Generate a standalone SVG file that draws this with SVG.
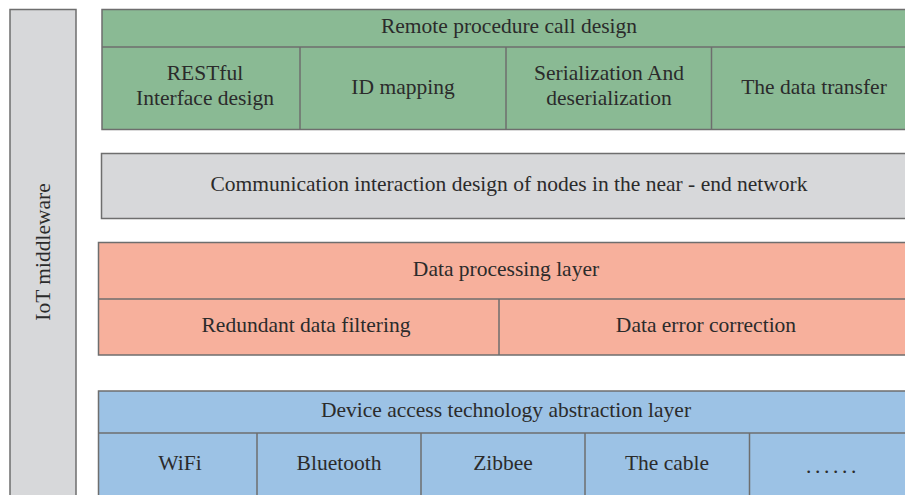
<svg xmlns="http://www.w3.org/2000/svg" width="905" height="495" viewBox="0 0 905 495">
  <style>
    .box { stroke: #6e6e6e; stroke-width: 1.5; }
    .line { stroke: #6e6e6e; stroke-width: 1.5; fill: none; }
    .green { fill: #8aba94; }
    .grey { fill: #d7d8da; }
    .red { fill: #f7b09c; }
    .blue { fill: #9cc2e5; }
    text { font-family: "Liberation Serif", "DejaVu Serif", serif; font-size: 21.5px; fill: #2b2b2b; text-anchor: middle; }
  </style>
  <rect width="905" height="495" fill="#ffffff"/>

  <!-- side bar -->
  <g id="iot-middleware">
    <rect class="box grey" x="10" y="9.5" width="66" height="500"/>
    <text transform="translate(50 252) rotate(-90)">IoT middleware</text>
  </g>

  <!-- RPC layer -->
  <g id="rpc-layer">
    <rect class="box green" x="102" y="9.5" width="810" height="120"/>
    <text x="509" y="33">Remote procedure call design</text>
  </g>
  <g id="rpc-cells">
    <line class="line" x1="102" y1="47" x2="912" y2="47"/>
    <line class="line" x1="300" y1="47" x2="300" y2="129.5"/>
    <line class="line" x1="506" y1="47" x2="506" y2="129.5"/>
    <line class="line" x1="711.5" y1="47" x2="711.5" y2="129.5"/>
  </g>
  <g id="restful"><text x="205" y="80">RESTful</text><text x="205" y="105">Interface design</text></g>
  <g id="id-mapping"><text x="403" y="94">ID mapping</text></g>
  <g id="serialization"><text x="609" y="80">Serialization And</text><text x="609" y="105">deserialization</text></g>
  <g id="data-transfer"><text x="814" y="94">The data transfer</text></g>

  <!-- near-end communication -->
  <g id="near-end">
    <rect class="box grey" x="101.5" y="153.5" width="810" height="65"/>
    <text x="509" y="191">Communication interaction design of nodes in the near - end network</text>
  </g>

  <!-- data processing -->
  <g id="data-processing">
    <rect class="box red" x="98.5" y="242.5" width="813" height="112.5"/>
    <line class="line" x1="98.5" y1="299" x2="912" y2="299"/>
    <line class="line" x1="499" y1="299" x2="499" y2="355"/>
    <text x="506" y="276">Data processing layer</text>
  </g>
  <g id="redundant"><text x="306" y="332">Redundant data filtering</text></g>
  <g id="error-correction"><text x="706" y="332">Data error correction</text></g>

  <!-- device access -->
  <g id="device-access">
    <rect class="box blue" x="98.5" y="391" width="813" height="120"/>
    <line class="line" x1="98.5" y1="433" x2="912" y2="433"/>
    <line class="line" x1="257" y1="433" x2="257" y2="511"/>
    <line class="line" x1="421" y1="433" x2="421" y2="511"/>
    <line class="line" x1="585" y1="433" x2="585" y2="511"/>
    <line class="line" x1="749.5" y1="433" x2="749.5" y2="511"/>
    <text x="506" y="417">Device access technology abstraction layer</text>
  </g>
  <g id="wifi"><text x="180" y="470">WiFi</text></g>
  <g id="bluetooth"><text x="339" y="470">Bluetooth</text></g>
  <g id="zibbee"><text x="503" y="470">Zibbee</text></g>
  <g id="cable"><text x="667" y="470">The cable</text></g>
  <g id="more"><text x="833" y="473" letter-spacing="3.6">......</text></g>
</svg>
